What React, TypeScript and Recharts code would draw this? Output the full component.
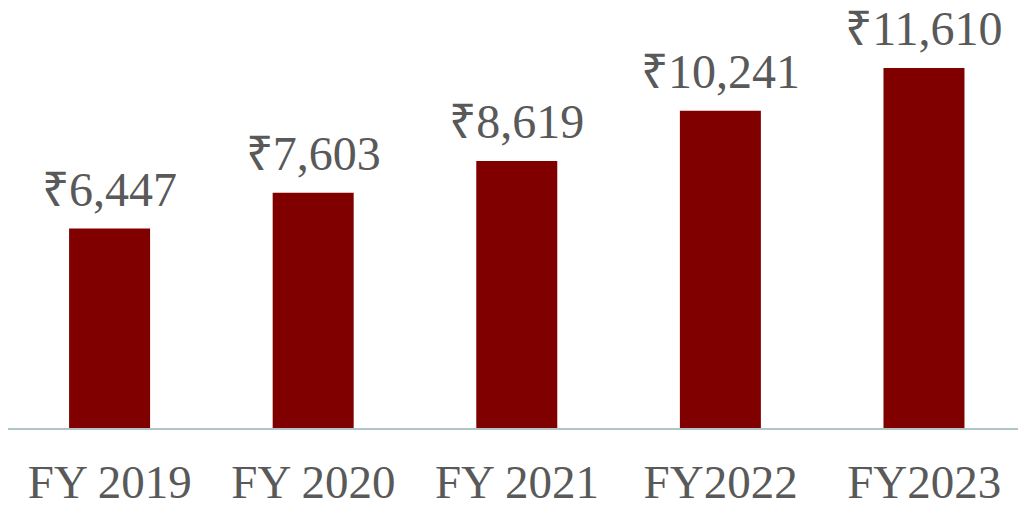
import React from 'react';
import { BarChart, Bar, XAxis, YAxis, LabelList } from 'recharts';

const years = ['FY 2019', 'FY 2020', 'FY 2021', 'FY2022', 'FY2023'];
const revenue = [6447, 7603, 8619, 10241, 11610];

const data = years.map((year, i) => ({ year, revenue: revenue[i] }));

const font = 'Liberation Serif, Times New Roman, serif';

export default function App() {
  return (
    <div style={{ position: 'absolute', left: 0, top: 0, width: 1018, height: 506, overflow: 'hidden', background: '#fff', fontFamily: font }}>
      <BarChart
        width={1026}
        height={506}
        data={data}
        margin={{ top: 56, right: 0, bottom: 0, left: 8 }}
        barCategoryGap="30%"
      >
        <XAxis
          dataKey="year"
          height={77}
          tickLine={false}
          axisLine={{ stroke: '#b0c4c8', strokeWidth: 2 }}
          tickMargin={30}
          tick={{ fill: '#595959', fontSize: 47, fontFamily: font }}
          interval={0}
        />
        <YAxis hide domain={[0, 12000]} />
        <Bar dataKey="revenue" fill="#800000" isAnimationActive={false}>
          <LabelList
            dataKey="revenue"
            position="top"
            offset={23}
            formatter={(v: number) => '₹' + v.toLocaleString('en-US')}
            fill="#595959"
            fontSize={48}
            fontFamily={font}
          />
        </Bar>
      </BarChart>
    </div>
  );
}
